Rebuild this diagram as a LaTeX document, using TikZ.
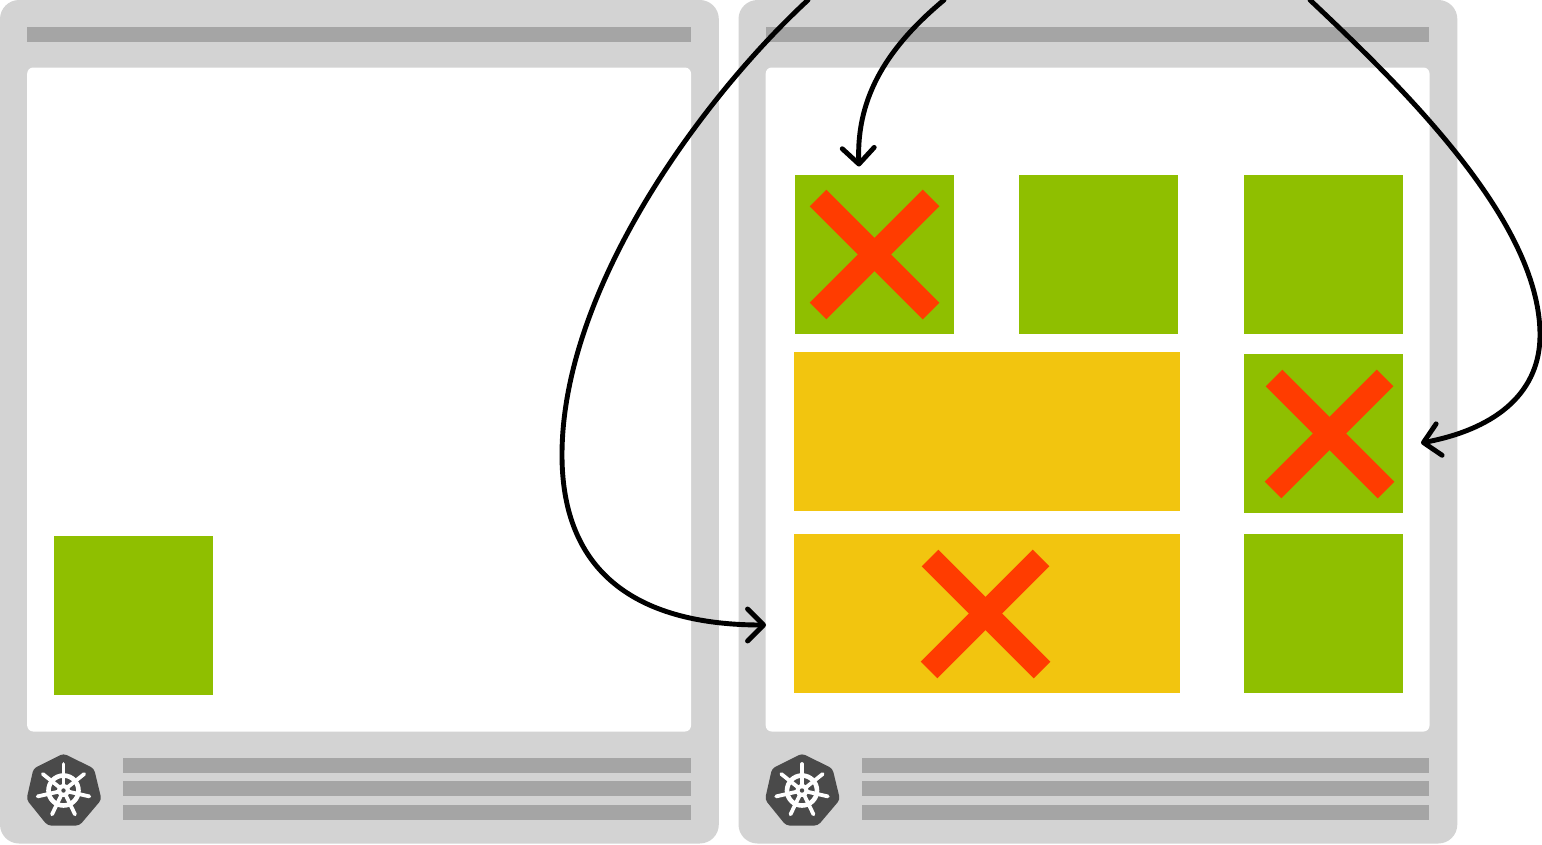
\documentclass[tikz,border=0pt]{standalone}
\usetikzlibrary{arrows.meta}
\definecolor{panelgrey}{HTML}{D3D3D3}
\definecolor{bargrey}{HTML}{A5A5A5}
\definecolor{podgreen}{HTML}{8FBF00}
\definecolor{podyellow}{HTML}{F2C50F}
\definecolor{crossred}{HTML}{FF3C00}
\definecolor{icongrey}{HTML}{4A4A4A}
\tikzset{
  x=1pt, y=-1pt,
  panel/.style={fill=panelgrey, rounded corners=19pt},
  inner panel/.style={fill=white, rounded corners=6pt},
  bar/.style={fill=bargrey},
  greenpod/.style={fill=podgreen},
  yellowpod/.style={fill=podyellow},
  crossline/.style={draw=crossred, line width=23.4pt},
  moveline/.style={draw=black, line width=4.9pt, line cap=round, line join=round,
    -{Straight Barb[length=16pt,width=32pt,round]}},
  node panel/.pic={
    \fill[panel] (0,0) rectangle (718.8,843.5);
    \fill[bar] (27,27) rectangle (690.8,41.5);
    \fill[inner panel] (27.2,67.5) rectangle (691,731.5);
    \fill[bar] (123,758) rectangle (690.8,773);
    \fill[bar] (123,781) rectangle (690.8,796);
    \fill[bar] (123,805) rectangle (690.8,820);
    \fill[icongrey, rounded corners=3.5pt] (63.5,753.5) -- (94,768.5) -- (101.5,799.5)
      -- (79.5,825.5) -- (47.5,825.5) -- (26.5,799.5) -- (33.5,768.5) -- cycle;
    \begin{scope}[shift={(63.5,790.5)}]
      \draw[white, line width=4.6pt] (0,0) circle[radius=15pt];
      \foreach \a in {90,141.43,192.86,244.29,295.71,347.14,398.57}{
        \draw[white, line width=3.8pt, line cap=round] (0,0) -- (\a:-26.5);
      }
      \fill[white] (0,0) circle[radius=6.5pt];
      \fill[icongrey] (0,0) circle[radius=2.2pt];
    \end{scope}
  },
}
\begin{document}
\begin{tikzpicture}
\useasboundingbox (0,0) rectangle (1542,844);
\pic at (0,0) {node panel};
\pic at (738.5,0) {node panel};
% pods
\fill[greenpod] (54,536) rectangle (213,695);
\fill[greenpod] (795,175) rectangle (954,334);
\fill[greenpod] (1019,175) rectangle (1178,334);
\fill[greenpod] (1244,175) rectangle (1403,334);
\fill[greenpod] (1244,354) rectangle (1403,513);
\fill[greenpod] (1244,534) rectangle (1403,693);
\fill[yellowpod] (794,352) rectangle (1180,511);
\fill[yellowpod] (794,534) rectangle (1180,693);
% crosses
\draw[crossline] (818,198) -- (931,311);
\draw[crossline] (931,198) -- (818,311);
\draw[crossline] (1274,378) -- (1386,490);
\draw[crossline] (1385,378) -- (1273,490);
\draw[crossline] (930,558) -- (1042,670);
\draw[crossline] (1041,558) -- (929,670);
% connectors
\coordinate (startA) at (808,0);
\coordinate (midA) at (562,455);
\coordinate (endA) at (766,625);
\coordinate (startB) at (944,0);
\coordinate (endB) at (859,166.5);
\coordinate (startC) at (1310,0);
\coordinate (midC) at (1540,335);
\coordinate (endC) at (1421,443);
\draw[moveline] (startA) .. controls (700,100) and (562,290) .. (midA)
  .. controls (562,590) and (660,625) .. (endA);
\draw[moveline] (startB) .. controls (890,45) and (856,95) .. (endB);
\draw[moveline] (startC) .. controls (1400,85) and (1540,220) .. (midC)
  .. controls (1540,390) and (1500,428) .. (endC);
\end{tikzpicture}
\end{document}
